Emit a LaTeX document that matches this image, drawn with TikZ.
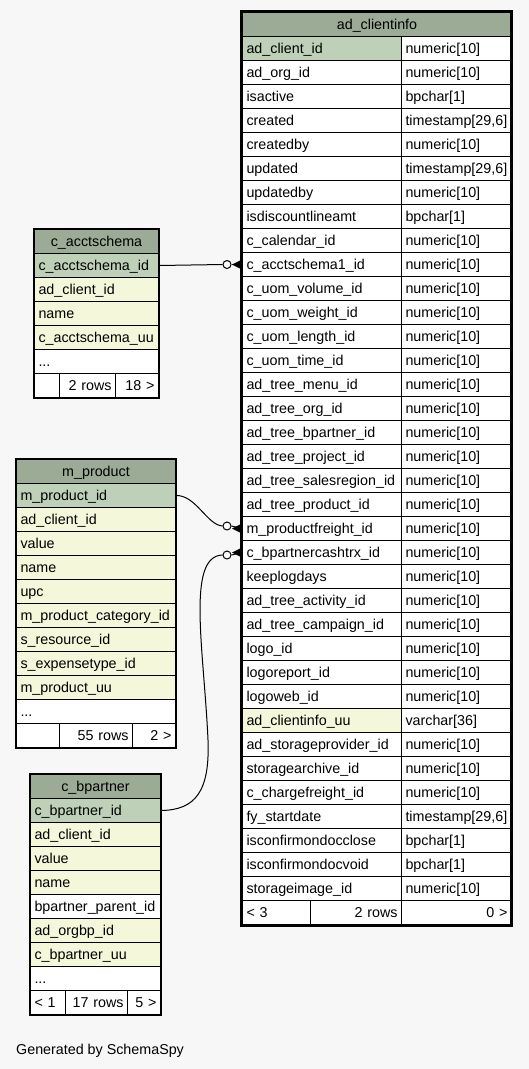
\documentclass[tikz,border=0pt]{standalone}
\usepackage{fontspec}
\setmainfont{Liberation Sans}
\definecolor{hdr}{HTML}{9BAB96}
\definecolor{pk}{HTML}{BED1B8}
\definecolor{idx}{HTML}{F4F7DA}
\definecolor{bgc}{HTML}{F7F7F7}
\newcommand\tabfont{\fontsize{14.3pt}{16pt}\selectfont}
\tikzset{
  cell/.style={draw=black, line width=1pt, rectangle, anchor=north west,
    minimum height=24pt, inner xsep=4pt, inner ysep=0pt,
    text height=11.5pt, text depth=1pt, font=\tabfont},
  rel/.style={draw=black, line width=1pt},
  dot/.style={circle, draw=black, line width=1pt, fill=white, minimum size=8pt, inner sep=0pt},
  tabframe/.style={draw=black, line width=1.4pt},
  mainframe/.style={draw=black, line width=3pt},
}
% name, x, y, width, fill, align, text
\newcommand\cellat[7]{%
  \pgfmathsetmacro\tw{#4-8}%
  \node[cell, fill=#5, text width=\tw pt, align=#6] (#1) at (#2,#3) {\mbox{#7}};}
% index, name, type, fill
\newcommand\mrow[4]{%
  \pgfmathsetmacro\ry{36+24*#1}%
  \cellat{n#1}{242}{\ry}{159}{#4}{left}{#2}%
  \cellat{t#1}{401}{\ry}{110}{white}{left}{#3}}
% crow's foot ending at a node's west anchor
\newcommand\crowat[1]{\fill[black] (#1.west) ++(-10,0) -- ++(10,-5) -- ++(0,10) -- cycle;}
\begin{document}
\begin{tikzpicture}[x=1pt, y=-1pt]
\fill[bgc] (0,0) rectangle (529,1069);
\useasboundingbox (0,0) rectangle (529,1069);

% ---------------- ad_clientinfo ----------------
\cellat{mh}{242}{12}{269}{hdr}{center}{ad\_clientinfo}
\mrow{0}{ad\_client\_id}{numeric[10]}{pk}
\mrow{1}{ad\_org\_id}{numeric[10]}{white}
\mrow{2}{isactive}{bpchar[1]}{white}
\mrow{3}{created}{timestamp[29,6]}{white}
\mrow{4}{createdby}{numeric[10]}{white}
\mrow{5}{updated}{timestamp[29,6]}{white}
\mrow{6}{updatedby}{numeric[10]}{white}
\mrow{7}{isdiscountlineamt}{bpchar[1]}{white}
\mrow{8}{c\_calendar\_id}{numeric[10]}{white}
\mrow{9}{c\_acctschema1\_id}{numeric[10]}{white}
\mrow{10}{c\_uom\_volume\_id}{numeric[10]}{white}
\mrow{11}{c\_uom\_weight\_id}{numeric[10]}{white}
\mrow{12}{c\_uom\_length\_id}{numeric[10]}{white}
\mrow{13}{c\_uom\_time\_id}{numeric[10]}{white}
\mrow{14}{ad\_tree\_menu\_id}{numeric[10]}{white}
\mrow{15}{ad\_tree\_org\_id}{numeric[10]}{white}
\mrow{16}{ad\_tree\_bpartner\_id}{numeric[10]}{white}
\mrow{17}{ad\_tree\_project\_id}{numeric[10]}{white}
\mrow{18}{ad\_tree\_salesregion\_id}{numeric[10]}{white}
\mrow{19}{ad\_tree\_product\_id}{numeric[10]}{white}
\mrow{20}{m\_productfreight\_id}{numeric[10]}{white}
\mrow{21}{c\_bpartnercashtrx\_id}{numeric[10]}{white}
\mrow{22}{keeplogdays}{numeric[10]}{white}
\mrow{23}{ad\_tree\_activity\_id}{numeric[10]}{white}
\mrow{24}{ad\_tree\_campaign\_id}{numeric[10]}{white}
\mrow{25}{logo\_id}{numeric[10]}{white}
\mrow{26}{logoreport\_id}{numeric[10]}{white}
\mrow{27}{logoweb\_id}{numeric[10]}{white}
\mrow{28}{ad\_clientinfo\_uu}{varchar[36]}{idx}
\mrow{29}{ad\_storageprovider\_id}{numeric[10]}{white}
\mrow{30}{storagearchive\_id}{numeric[10]}{white}
\mrow{31}{c\_chargefreight\_id}{numeric[10]}{white}
\mrow{32}{fy\_startdate}{timestamp[29,6]}{white}
\mrow{33}{isconfirmondocclose}{bpchar[1]}{white}
\mrow{34}{isconfirmondocvoid}{bpchar[1]}{white}
\mrow{35}{storageimage\_id}{numeric[10]}{white}
\cellat{mf1}{242}{900}{68}{white}{left}{< 3}
\cellat{mf2}{310}{900}{91}{white}{right}{2 rows}
\cellat{mf3}{401}{900}{110}{white}{right}{0 >}
\draw[mainframe] (241.5,11.3) rectangle (511.5,925.5);

% ---------------- c_acctschema ----------------
\cellat{cah}{34}{229}{124}{hdr}{center}{c\_acctschema}
\cellat{ca1}{34}{253}{124}{pk}{left}{c\_acctschema\_id}
\cellat{ca2}{34}{277}{124}{idx}{left}{ad\_client\_id}
\cellat{ca3}{34}{301}{124}{idx}{left}{name}
\cellat{ca4}{34}{325}{124}{idx}{left}{c\_acctschema\_uu}
\cellat{ca5}{34}{349}{124}{white}{left}{...}
\cellat{caf1}{34}{373}{25}{white}{left}{}
\cellat{caf2}{59}{373}{56}{white}{right}{2 rows}
\cellat{caf3}{115}{373}{43}{white}{right}{18 >}
\draw[tabframe] (cah.north west) rectangle (caf3.south east);

% ---------------- m_product ----------------
\cellat{mph}{16}{459}{159}{hdr}{center}{m\_product}
\cellat{mp1}{16}{483}{159}{pk}{left}{m\_product\_id}
\cellat{mp2}{16}{507}{159}{idx}{left}{ad\_client\_id}
\cellat{mp3}{16}{531}{159}{idx}{left}{value}
\cellat{mp4}{16}{555}{159}{idx}{left}{name}
\cellat{mp5}{16}{579}{159}{idx}{left}{upc}
\cellat{mp6}{16}{603}{159}{idx}{left}{m\_product\_category\_id}
\cellat{mp7}{16}{627}{159}{idx}{left}{s\_resource\_id}
\cellat{mp8}{16}{651}{159}{idx}{left}{s\_expensetype\_id}
\cellat{mp9}{16}{675}{159}{idx}{left}{m\_product\_uu}
\cellat{mp10}{16}{699}{159}{white}{left}{...}
\cellat{mpf1}{16}{723}{43}{white}{left}{}
\cellat{mpf2}{59}{723}{73}{white}{right}{55 rows}
\cellat{mpf3}{132}{723}{43}{white}{right}{2 >}
\draw[tabframe] (mph.north west) rectangle (mpf3.south east);

% ---------------- c_bpartner ----------------
\cellat{cbh}{30}{774}{130}{hdr}{center}{c\_bpartner}
\cellat{cb1}{30}{798}{130}{pk}{left}{c\_bpartner\_id}
\cellat{cb2}{30}{822}{130}{idx}{left}{ad\_client\_id}
\cellat{cb3}{30}{846}{130}{idx}{left}{value}
\cellat{cb4}{30}{870}{130}{idx}{left}{name}
\cellat{cb5}{30}{894}{130}{white}{left}{bpartner\_parent\_id}
\cellat{cb6}{30}{918}{130}{idx}{left}{ad\_orgbp\_id}
\cellat{cb7}{30}{942}{130}{idx}{left}{c\_bpartner\_uu}
\cellat{cb8}{30}{966}{130}{white}{left}{...}
\cellat{cbf1}{30}{990}{34.5}{white}{left}{< 1}
\cellat{cbf2}{64.5}{990}{62.5}{white}{right}{17 rows}
\cellat{cbf3}{127}{990}{33}{white}{right}{5 >}
\draw[tabframe] (cbh.north west) rectangle (cbf3.south east);

% ---------------- relationships ----------------
\node[dot] (o1) at (227,264.5) {};
\node[dot] (o2) at (227,526) {};
\node[dot] (o3) at (227,555) {};
\draw[rel] (ca1.east) -- (o1.west);
\draw[rel] (o1.east) -- (n9.west);
\crowat{n9}
\draw[rel] (mp1.east) .. controls (196,495) and (207,525) .. (o2.west);
\draw[rel] (o2.east) -- (n20.west);
\crowat{n20}
\draw[rel] (cb1.east) .. controls (195,810) and (210,792) .. (208,740)
  .. controls (204,650) and (186,556) .. (o3.west);
\draw[rel] (o3.east) -- (n21.west);
\crowat{n21}

\node[anchor=base west, inner sep=0pt, font=\tabfont] (gen) at (16,1054) {Generated by SchemaSpy};
\end{tikzpicture}
\end{document}
